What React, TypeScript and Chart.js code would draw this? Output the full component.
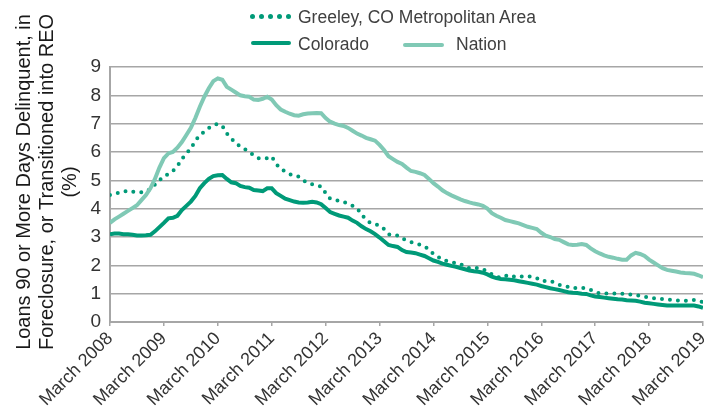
import React, { useEffect, useRef } from "react";
import { Chart, registerables } from "chart.js";

Chart.register(...registerables);

const startYear = 2008;
const tickYears = [2008, 2009, 2010, 2011, 2012, 2013, 2014, 2015, 2016, 2017, 2018, 2019];
const tickLabels = tickYears.map((y) => `March ${y}`);
const yTicks = [0, 1, 2, 3, 4, 5, 6, 7, 8, 9];
const yTitleLines = [
  "Loans 90 or More Days Delinquent, in",
  "Foreclosure, or Transitioned into REO",
  "(%)",
];

// Monthly values, March 2008 .. March 2019
const greeley = [
  4.48, 4.52, 4.56, 4.6, 4.64, 4.6, 4.58, 4.58, 4.6, 4.7, 4.85, 5.0,
  5.15, 5.22, 5.33, 5.5, 5.75, 5.95, 6.12, 6.4, 6.6, 6.72, 6.85, 6.95,
  6.99, 6.92, 6.65, 6.48, 6.3, 6.2, 6.1, 6.0, 5.88, 5.78, 5.78, 5.78,
  5.84, 5.57, 5.42, 5.3, 5.22, 5.16, 5.13, 5.0, 4.92, 4.86, 4.83, 4.78,
  4.55, 4.35, 4.31, 4.28, 4.24, 4.17, 4.1, 4.01, 3.8, 3.6, 3.5, 3.46,
  3.4, 3.28, 3.1, 3.05, 3.05, 2.95, 2.88, 2.82, 2.78, 2.73, 2.67, 2.56,
  2.4, 2.3, 2.2, 2.15, 2.11, 2.08, 2.05, 1.95, 1.9, 1.92, 1.9, 1.86,
  1.78, 1.68, 1.6, 1.56, 1.62, 1.66, 1.6, 1.58, 1.62, 1.61, 1.6, 1.55,
  1.45, 1.45, 1.45, 1.38, 1.31, 1.28, 1.24, 1.19, 1.2, 1.21, 1.18, 1.13,
  1.06, 1.01, 1.01, 1.01, 1.01, 1.01, 1.0, 0.99, 0.97, 0.95, 0.92, 0.89,
  0.86, 0.84, 0.82, 0.81, 0.79, 0.78, 0.76, 0.75, 0.75, 0.76, 0.78, 0.74,
  0.7,
];

const colorado = [
  3.1, 3.12, 3.12, 3.1, 3.1, 3.08, 3.05, 3.05, 3.06, 3.08, 3.2, 3.35,
  3.5, 3.66, 3.68, 3.75, 3.95, 4.1, 4.25, 4.45, 4.72, 4.9, 5.05, 5.15,
  5.18, 5.19, 5.05, 4.93, 4.9, 4.8, 4.76, 4.74, 4.66, 4.64, 4.62, 4.72,
  4.72, 4.55, 4.45, 4.35, 4.3, 4.25, 4.22, 4.21, 4.22, 4.24, 4.22, 4.16,
  4.02, 3.88, 3.82, 3.76, 3.72, 3.68, 3.58, 3.5, 3.38, 3.28, 3.2, 3.1,
  2.98, 2.85, 2.72, 2.68, 2.65, 2.54, 2.47, 2.45, 2.43, 2.38, 2.33, 2.25,
  2.17, 2.12, 2.06, 2.02, 1.98, 1.95, 1.9, 1.86, 1.82, 1.79, 1.77, 1.74,
  1.68, 1.6, 1.55, 1.52, 1.51, 1.49, 1.47, 1.44, 1.41, 1.38, 1.35, 1.32,
  1.27, 1.23, 1.19, 1.16, 1.13, 1.09, 1.05, 1.03, 1.02, 1.0, 0.99, 0.94,
  0.9, 0.88, 0.86, 0.84, 0.82, 0.8, 0.79, 0.77, 0.76, 0.75, 0.72, 0.68,
  0.66, 0.64, 0.62, 0.6, 0.58, 0.58, 0.58, 0.58, 0.58, 0.58, 0.58, 0.55,
  0.5,
];

const nation = [
  3.5, 3.62, 3.72, 3.82, 3.92, 4.02, 4.12, 4.3, 4.48, 4.72, 5.05, 5.45,
  5.78, 5.95, 6.0, 6.15, 6.35, 6.6, 6.85, 7.2, 7.6, 7.95, 8.25, 8.5,
  8.6, 8.55, 8.3, 8.2, 8.1, 8.0, 7.97, 7.95, 7.85, 7.84, 7.88, 7.95,
  7.85, 7.65, 7.5, 7.42, 7.35, 7.3, 7.28, 7.33, 7.36, 7.37, 7.38, 7.37,
  7.2, 7.07, 7.0, 6.95, 6.92, 6.85, 6.75, 6.65, 6.58, 6.5, 6.45, 6.4,
  6.25, 6.07, 5.85, 5.75, 5.65, 5.58, 5.45, 5.33, 5.3, 5.25, 5.19, 5.05,
  4.9, 4.78, 4.65, 4.55, 4.47, 4.4, 4.33, 4.27, 4.22, 4.18, 4.15, 4.1,
  4.0, 3.84, 3.75, 3.68, 3.6, 3.56, 3.52, 3.48, 3.42, 3.36, 3.32, 3.28,
  3.15, 3.05, 3.0, 2.93, 2.9, 2.82, 2.74, 2.72, 2.73, 2.75, 2.72, 2.6,
  2.5, 2.42, 2.35, 2.3, 2.27, 2.23, 2.2, 2.2, 2.35, 2.44, 2.4, 2.33,
  2.2, 2.1, 2.0, 1.9, 1.84, 1.81, 1.78, 1.75, 1.73, 1.72, 1.7, 1.65,
  1.58,
];

const DARK = "#009a78";
const LIGHT = "#80c9b5";
const GRID = "#a6a6a6";
const TEXT = "#333333";
const FONT = "'Liberation Sans', Arial, sans-serif";

const toPoints = (arr: number[]) => arr.map((v, i) => ({ x: i, y: v }));

const yTitlePlugin = {
  id: "yTitle",
  afterDraw(chart: any) {
    const ctx = chart.ctx;
    ctx.save();
    ctx.fillStyle = "#1a1a1a";
    ctx.font = `20px ${FONT}`;
    ctx.textAlign = "center";
    ctx.textBaseline = "middle";
    const xs = [24, 47, 70];
    const cy = 182;
    yTitleLines.forEach((line, i) => {
      ctx.save();
      ctx.translate(xs[i], cy);
      ctx.rotate(-Math.PI / 2);
      ctx.fillText(line, 0, 0);
      ctx.restore();
    });
    ctx.restore();
  },
};

export default function App() {
  const canvasRef = useRef<HTMLCanvasElement | null>(null);

  useEffect(() => {
    document.body.style.margin = "0";
    const canvas = canvasRef.current;
    if (!canvas) return;
    const chart = new Chart(canvas, {
      type: "line",
      data: {
        datasets: [
          {
            label: "Nation",
            data: toPoints(nation),
            borderColor: LIGHT,
            borderWidth: 4,
            pointRadius: 0,
            tension: 0,
          },
          {
            label: "Greeley, CO Metropolitan Area",
            data: toPoints(greeley),
            borderColor: DARK,
            borderWidth: 4,
            borderDash: [0, 8],
            borderCapStyle: "round",
            pointRadius: 0,
            tension: 0,
          },
          {
            label: "Colorado",
            data: toPoints(colorado),
            borderColor: DARK,
            borderWidth: 4,
            pointRadius: 0,
            tension: 0,
          },
        ],
      },
      plugins: [yTitlePlugin],
      options: {
        animation: false,
        responsive: false,
        maintainAspectRatio: false,
        layout: { padding: { top: 67, right: 1, left: 0, bottom: 0 } },
        plugins: { legend: { display: false }, tooltip: { enabled: false } },
        scales: {
          x: {
            type: "linear",
            min: 0,
            max: (tickYears.length - 1) * 12,
            afterBuildTicks: (s: any) => {
              s.ticks = tickYears.map((y) => ({ value: (y - startYear) * 12 }));
            },
            afterFit: (s: any) => {
              s.height = 93;
              s.paddingLeft = 0;
              s.paddingRight = 0;
            },
            ticks: {
              autoSkip: false,
              maxRotation: 45,
              minRotation: 45,
              padding: 2,
              color: TEXT,
              font: { family: FONT, size: 18 },
              callback: (v: any) => tickLabels[Math.round(Number(v) / 12)] ?? "",
            },
            grid: {
              drawOnChartArea: false,
              drawTicks: true,
              tickLength: 4,
              color: GRID,
              lineWidth: 1.5,
            },
            border: { color: GRID, width: 2 },
          },
          y: {
            min: 0,
            max: 9,
            afterBuildTicks: (s: any) => {
              s.ticks = yTicks.map((v) => ({ value: v }));
            },
            afterFit: (s: any) => {
              s.width = 110;
            },
            ticks: {
              color: TEXT,
              padding: 9,
              font: { family: FONT, size: 19 },
            },
            grid: { color: GRID, lineWidth: 1.5, drawTicks: false },
            border: { color: GRID, width: 2 },
          },
        },
      },
    });
    return () => chart.destroy();
  }, []);

  const legendText: React.CSSProperties = {
    position: "absolute",
    fontFamily: FONT,
    fontSize: 17.5,
    color: "#404040",
    lineHeight: "20px",
    whiteSpace: "nowrap",
  };

  const dot = (left: number): React.CSSProperties => ({
    position: "absolute",
    left,
    top: 14,
    width: 5,
    height: 5,
    borderRadius: "50%",
    background: DARK,
  });

  return (
    <div style={{ position: "relative", width: 704, height: 415 }}>
      <canvas ref={canvasRef} width={704} height={415} style={{ display: "block" }} />
      {[0, 1, 2, 3, 4].map((i) => (
        <div key={i} style={dot(250 + i * 9)} />
      ))}
      <div style={{ ...legendText, left: 298, top: 7 }}>Greeley, CO Metropolitan Area</div>
      <div
        style={{
          position: "absolute",
          left: 251,
          top: 41,
          width: 40,
          height: 4,
          borderRadius: 2,
          background: DARK,
        }}
      />
      <div style={{ ...legendText, left: 298, top: 34 }}>Colorado</div>
      <div
        style={{
          position: "absolute",
          left: 403,
          top: 43,
          width: 41,
          height: 4,
          borderRadius: 2,
          background: LIGHT,
        }}
      />
      <div style={{ ...legendText, left: 456, top: 34 }}>Nation</div>
    </div>
  );
}
